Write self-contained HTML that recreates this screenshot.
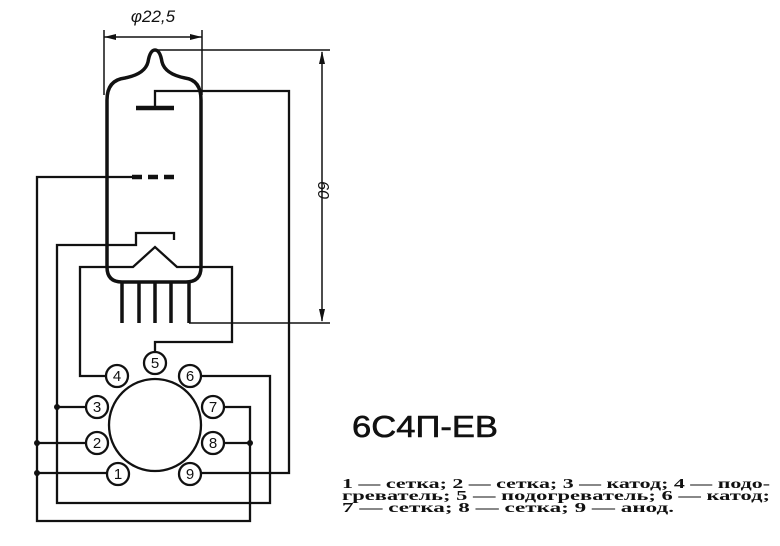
<!DOCTYPE html>
<html><head><meta charset="utf-8"><style>html,body{margin:0;padding:0;background:#fff}svg{display:block}</style></head>
<body>
<svg width="780" height="546" viewBox="0 0 780 546" xmlns="http://www.w3.org/2000/svg">
<g fill="none" stroke="#111" stroke-width="2.3">
<!-- dimension top -->
<line x1="104" y1="30" x2="104" y2="95" stroke-width="1.5"/>
<line x1="202" y1="30" x2="202" y2="95" stroke-width="1.5"/>
<line x1="104" y1="37" x2="202" y2="37" stroke-width="1.5"/>
<!-- tube -->
<path d="M107 100 Q107 80 125 78 Q145 74 148 62 Q150 50 155 50 Q160 50 162 62 Q165 74 185 78 Q201 80 201 100 L201 267 Q201 282 186 282 L122 282 Q107 282 107 267 Z" stroke-width="3.5"/>
<!-- dimension right -->
<line x1="155" y1="50" x2="330" y2="50" stroke-width="1.5"/>
<line x1="189" y1="323" x2="330" y2="323" stroke-width="1.5"/>
<line x1="322" y1="52" x2="322" y2="321" stroke-width="1.5"/>
<!-- legs -->
<g stroke-width="3.5"><line x1="122" y1="282" x2="122" y2="323"/><line x1="139" y1="282" x2="139" y2="323"/><line x1="155" y1="282" x2="155" y2="323"/><line x1="171" y1="282" x2="171" y2="323"/><line x1="189" y1="282" x2="189" y2="323"/></g>
<!-- anode -->
<line x1="136" y1="108" x2="174" y2="108" stroke-width="4.5"/>
<polyline points="155,108 155,91 289,91 289,473 202,473"/>
<!-- grid -->
<line x1="132" y1="177" x2="177" y2="177" stroke-width="4.5" stroke-dasharray="10,6"/>
<polyline points="132,177 37,177 37,521 250,521 250,407 225,407"/>
<line x1="225" y1="443" x2="250" y2="443"/>
<line x1="37" y1="443" x2="85" y2="443"/>
<line x1="37" y1="473" x2="106" y2="473"/>
<!-- cathode -->
<polyline points="174,240 174,233 136,233 136,245 57,245 57,503 270,503 270,376 202,376" />
<line x1="57" y1="407" x2="85" y2="407"/>
<!-- heater -->
<polyline points="105,376 80,376 80,267 133,267 155,247 177,267 232,267 232,342 155,342 155,351"/>
</g>
<!-- arrowheads -->
<g fill="#111">
<polygon points="104,37 116,34 116,40"/><polygon points="202,37 190,34 190,40"/>
<polygon points="322,51 319,64 325,64"/><polygon points="322,322 319,309 325,309"/>
</g>
<!-- socket -->
<g fill="#fff" stroke="#111" stroke-width="2.3">
<circle cx="155" cy="425" r="46"/>
<circle cx="155" cy="363" r="11"/><circle cx="117" cy="376" r="11"/><circle cx="190" cy="376" r="11"/>
<circle cx="97" cy="407" r="11"/><circle cx="213" cy="407" r="11"/><circle cx="97" cy="443" r="11"/>
<circle cx="213" cy="443" r="11"/><circle cx="118" cy="474" r="11"/><circle cx="190" cy="474" r="11"/>
</g>
<g fill="#111"><circle cx="57" cy="407" r="3"/><circle cx="37" cy="443" r="3"/><circle cx="37" cy="473" r="3"/><circle cx="250" cy="443" r="3"/></g>
<g font-family="Liberation Sans, sans-serif" font-size="15" text-anchor="middle" fill="#111">
<text x="155" y="368">5</text><text x="117" y="381">4</text><text x="190" y="381">6</text>
<text x="97" y="412">3</text><text x="213" y="412">7</text><text x="97" y="448">2</text>
<text x="213" y="448">8</text><text x="118" y="479">1</text><text x="190" y="479">9</text>
</g>
<text x="153" y="22" font-family="Liberation Sans, sans-serif" font-style="italic" font-size="17" text-anchor="middle" fill="#111">φ22,5</text>
<text transform="translate(318,190) rotate(90)" font-family="Liberation Sans, sans-serif" font-style="italic" font-size="16" text-anchor="middle" fill="#111">60</text>
<text x="352" y="437" font-family="Liberation Sans, sans-serif" font-size="31" stroke="#111" stroke-width="0.6" textLength="146" lengthAdjust="spacingAndGlyphs" fill="#111">6С4П-ЕВ</text>
<g font-family="Liberation Serif, serif" font-weight="bold" font-size="14" fill="#111">
<text x="342" y="488" textLength="428" lengthAdjust="spacingAndGlyphs">1 — сетка;  2 — сетка;  3 — катод;  4 — подо-</text>
<text x="342" y="500" textLength="428" lengthAdjust="spacingAndGlyphs">греватель;  5 — подогреватель;  6 — катод;</text>
<text x="342" y="512" textLength="332" lengthAdjust="spacingAndGlyphs">7 — сетка;  8 — сетка;  9 — анод.</text>
</g>
</svg>
</body></html>
